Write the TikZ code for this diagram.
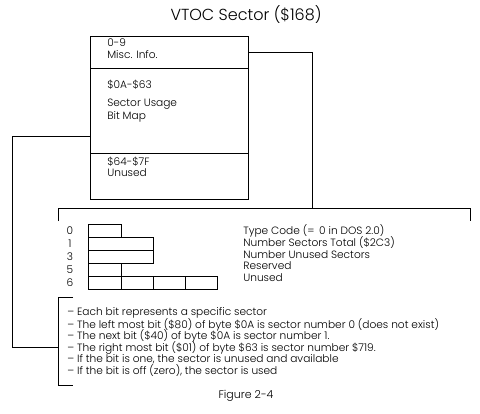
\documentclass[tikz,border=0pt]{standalone}
\usepackage{fontspec}
\setmainfont{Poppins Light}
\begin{document}
\begin{tikzpicture}[x=1pt,y=-1pt,line width=0.6pt,
  body/.style={font=\fontsize{10.6}{12}\selectfont,inner sep=0pt,anchor=west},
  num/.style={font=\fontsize{10.6}{12}\selectfont,inner sep=0pt},
  sect/.style={draw,minimum width=158pt,inner sep=0pt,outer sep=0pt,anchor=north west},
  cell/.style={draw,minimum height=13pt,inner sep=0pt,outer sep=0pt,anchor=north west},
  wire/.style={line width=0.6pt}]
\useasboundingbox (0,0) rectangle (480,413);
% title
\node[font=\fontsize{16}{18}\selectfont] (title) at (246,15) {VTOC Sector (\$168)};
% sector box
\node[sect,minimum height=32pt] (misc) at (90,36) {};
\node[sect,minimum height=85pt] (usage) at (90,68) {};
\node[sect,minimum height=46pt] (unusedsec) at (90,153) {};
\node[body] (t1) at (107,43) {0-9};
\node[body] (t2) at (107,55) {Misc. Info.};
\node[body] (t3) at (107,85) {\$0A-\$63};
\node[body] (t4) at (107,104) {Sector Usage};
\node[body] (t5) at (107,116.5) {Bit Map};
\node[body] (t6) at (107,162) {\$64-\$7F};
\node[body] (t7) at (107,173) {Unused};
% connectors
\coordinate (lj) at (90,136);
\coordinate (rj) at (248,52);
\coordinate (tbmid) at (312,208);
\coordinate (bbmid) at (58,347);
\draw[wire] (rj) -| (tbmid);
\draw[wire] (58,221) -- (58,208) -- (470,208) -- (470,221);
\draw[wire] (lj) -| (12,347) -- (bbmid);
\draw[wire] (73,297) -- (58,297) -- (58,385) -- (73,385);
% bit map rows
\node[cell,minimum width=33pt] (r0) at (88,224) {};
\node[cell,minimum width=65.5pt] (r1) at (88,237) {};
\node[cell,minimum width=65.5pt] (r3) at (88,250) {};
\node[cell,minimum width=33pt] (r5) at (88,263) {};
\node[cell,minimum width=33pt] (r6a) at (88,276) {};
\node[cell,minimum width=32.5pt] (r6b) at (121,276) {};
\node[cell,minimum width=32pt] (r6c) at (153.5,276) {};
\node[cell,minimum width=31.5pt] (r6d) at (185.5,276) {};
\node[num] (n0) at (70,230.5) {0};
\node[num] (n1) at (70,243.5) {1};
\node[num] (n3) at (70,256.5) {3};
\node[num] (n5) at (70,269.5) {5};
\node[num] (n6) at (70,282.5) {6};
\node[body] (d0) at (243,231) {Type Code (= \,0 in DOS 2.0)};
\node[body] (d1) at (243,242.5) {Number Sectors Total (\$2C3)};
\node[body] (d2) at (243,254.5) {Number Unused Sectors};
\node[body] (d3) at (243,266) {Reserved};
\node[body] (d4) at (243,277.5) {Unused};
% notes
\node[body] (e1) at (67,313) {-- Each bit represents a specific sector};
\node[body] (e2) at (67,324.5) {-- The left most bit (\$80) of byte \$0A is sector number 0 (does not exist)};
\node[body] (e3) at (67,336) {-- The next bit (\$40) of byte \$0A is sector number 1.};
\node[body] (e4) at (67,347.5) {-- The right most bit (\$01) of byte \$63 is sector number \$719.};
\node[body] (e5) at (67,359) {-- If the bit is one, the sector is unused and available};
\node[body] (e6) at (67,370.5) {-- If the bit is off (zero), the sector is used};
\node[font=\fontsize{11}{13}\selectfont] (fig) at (246,396) {Figure 2-4};
\end{tikzpicture}
\end{document}
